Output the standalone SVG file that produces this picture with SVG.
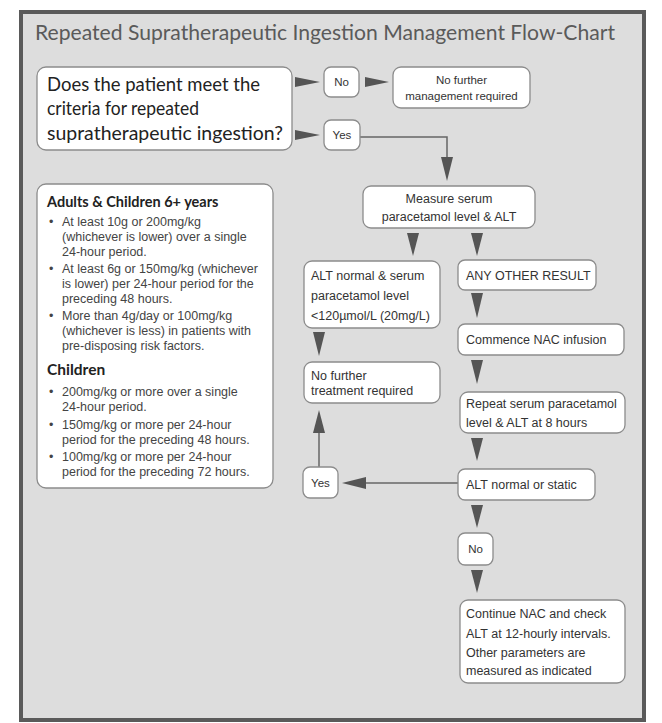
<svg xmlns="http://www.w3.org/2000/svg" width="662" height="723" viewBox="0 0 662 723">
<style>
.frame{fill:#dddddd;stroke:#5a5a5a;stroke-width:4}
.box{fill:#ffffff;stroke:#8c8c8c;stroke-width:1.3}
.title{font-family:Lato,"Open Sans",sans-serif;font-size:21px;fill:#5a5a5a}
.q{font-family:Lato,"Open Sans",sans-serif;font-size:20px;fill:#222222}
.t{font-family:"Liberation Sans",Arial,sans-serif;font-size:12.5px;fill:#333333}
.s{font-family:"Liberation Sans",Arial,sans-serif;font-size:11.5px;fill:#333333}
.b{font-family:"Liberation Sans",Arial,sans-serif;font-size:12.5px;fill:#444444}
.h{font-family:Lato,"Open Sans",sans-serif;font-weight:bold;fill:#222222}
.c{text-anchor:middle}
.ah{fill:#555555}
.ln{fill:none;stroke:#666666;stroke-width:1.5}
</style>
<rect class="frame" x="21" y="12" width="623" height="708"/>
<text class="title" x="35" y="40" textLength="580" lengthAdjust="spacingAndGlyphs">Repeated Supratherapeutic Ingestion Management Flow-Chart</text>

<g id="connectors">
<polygon class="ah" points="295,77 295,87 320,82"/>
<polygon class="ah" points="365,77 365,87 389,82"/>
<polygon class="ah" points="295,130 295,140 320,135"/>
<polyline class="ln" points="360,137 447,137 447,160"/>
<polygon class="ah" points="441,157 453,157 447,181"/>
<polygon class="ah" points="407,233 419,233 413,256"/>
<polygon class="ah" points="471,233 483,233 477,256"/>
<polygon class="ah" points="471,293 483,293 477,318"/>
<polygon class="ah" points="471,360 483,360 477,384"/>
<polygon class="ah" points="471,438 483,438 477,461"/>
<polygon class="ah" points="313,332 325,332 319,356"/>
<line class="ln" x1="319" y1="432" x2="319" y2="467"/>
<polygon class="ah" points="313,433 325,433 319,410"/>
<line class="ln" x1="365" y1="483" x2="458" y2="483"/>
<polygon class="ah" points="366,477 366,489 342,483"/>
<polygon class="ah" points="471,505 483,505 477,528"/>
<polygon class="ah" points="471,570 483,570 477,593"/>
</g>

<g id="question">
<rect class="box" x="37" y="67" width="255" height="83" rx="9"/>
<text class="q" x="47" y="91" textLength="213" lengthAdjust="spacingAndGlyphs">Does the patient meet the</text>
<text class="q" x="47" y="115" textLength="152" lengthAdjust="spacingAndGlyphs">criteria for repeated</text>
<text class="q" x="47" y="140" textLength="236" lengthAdjust="spacingAndGlyphs">supratherapeutic ingestion?</text>
</g>

<g id="no1">
<rect class="box" x="324" y="67" width="35" height="30" rx="7"/>
<text class="s c" x="341.5" y="86">No</text>
</g>

<g id="no-further-management">
<rect class="box" x="393" y="67" width="137" height="41" rx="8"/>
<text class="s c" x="461.5" y="84">No further</text>
<text class="s c" x="461.5" y="100">management required</text>
</g>

<g id="yes1">
<rect class="box" x="324" y="120" width="36" height="30" rx="7"/>
<text class="s c" x="342" y="139">Yes</text>
</g>

<g id="criteria">
<rect class="box" x="37" y="184" width="236" height="304" rx="9"/>
<text class="h" x="47" y="207" font-size="14.5">Adults &amp; Children 6+ years</text>
<g class="b">
<text x="49" y="226">•</text><text x="62" y="226">At least 10g or 200mg/kg</text>
<text x="62" y="241">(whichever is lower) over a single</text>
<text x="62" y="256">24-hour period.</text>
<text x="49" y="273">•</text><text x="62" y="273">At least 6g or 150mg/kg (whichever</text>
<text x="62" y="288">is lower) per 24-hour period for the</text>
<text x="62" y="303">preceding 48 hours.</text>
<text x="49" y="320">•</text><text x="62" y="320">More than 4g/day or 100mg/kg</text>
<text x="62" y="335">(whichever is less) in patients with</text>
<text x="62" y="350">pre-disposing risk factors.</text>
</g>
<text class="h" x="47" y="375" font-size="15.5">Children</text>
<g class="b">
<text x="49" y="396">•</text><text x="62" y="396">200mg/kg or more over a single</text>
<text x="62" y="411">24-hour period.</text>
<text x="49" y="429">•</text><text x="62" y="429">150mg/kg or more per 24-hour</text>
<text x="62" y="444">period for the preceding 48 hours.</text>
<text x="49" y="461">•</text><text x="62" y="461">100mg/kg or more per 24-hour</text>
<text x="62" y="476">period for the preceding 72 hours.</text>
</g>
</g>

<g id="measure">
<rect class="box" x="363" y="186" width="172" height="42" rx="8"/>
<text class="t c" x="449" y="203">Measure serum</text>
<text class="t c" x="449" y="221">paracetamol level &amp; ALT</text>
</g>

<g id="alt-normal-level">
<rect class="box" x="304" y="261" width="136" height="67" rx="8"/>
<text class="t" x="311" y="280">ALT normal &amp; serum</text>
<text class="t" x="311" y="300">paracetamol level</text>
<text class="t" x="311" y="320">&lt;120µmol/L (20mg/L)</text>
</g>

<g id="any-other">
<rect class="box" x="458" y="260" width="138" height="30" rx="7"/>
<text class="t" x="466" y="280">ANY OTHER RESULT</text>
</g>

<g id="commence-nac">
<rect class="box" x="458" y="324" width="166" height="31" rx="7"/>
<text class="t" x="466" y="344">Commence NAC infusion</text>
</g>

<g id="no-further-treatment">
<rect class="box" x="304" y="362" width="136" height="41" rx="8"/>
<text class="t" x="311" y="380">No further</text>
<text class="t" x="311" y="395">treatment required</text>
</g>

<g id="repeat">
<rect class="box" x="460" y="392" width="165" height="41" rx="8"/>
<text class="t" x="466" y="408">Repeat serum paracetamol</text>
<text class="t" x="466" y="427">level &amp; ALT at 8 hours</text>
</g>

<g id="yes2">
<rect class="box" x="303" y="467" width="35" height="31" rx="7"/>
<text class="s c" x="320.5" y="487">Yes</text>
</g>

<g id="alt-static">
<rect class="box" x="458" y="469" width="137" height="31" rx="7"/>
<text class="t" x="466" y="489">ALT normal or static</text>
</g>

<g id="no2">
<rect class="box" x="458" y="533" width="35" height="32" rx="7"/>
<text class="s c" x="475.5" y="553">No</text>
</g>

<g id="continue-nac">
<rect class="box" x="460" y="600" width="165" height="83" rx="8"/>
<text class="t" x="466" y="618">Continue NAC and check</text>
<text class="t" x="466" y="638">ALT at 12-hourly intervals.</text>
<text class="t" x="466" y="657">Other parameters are</text>
<text class="t" x="466" y="675">measured as indicated</text>
</g>
</svg>
